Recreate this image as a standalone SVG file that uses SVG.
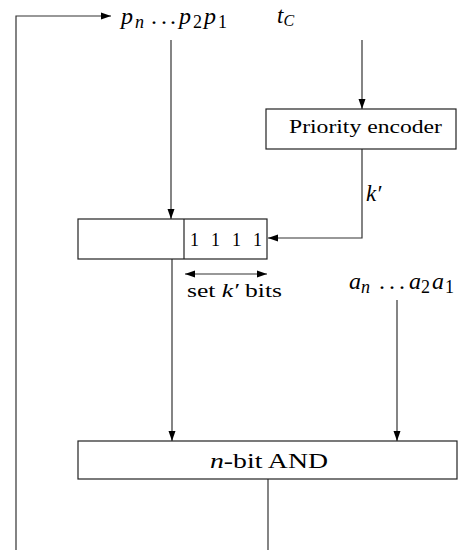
<svg xmlns="http://www.w3.org/2000/svg" width="468" height="550" viewBox="0 0 468 550">
  <style>
    .box { fill: #fff; stroke: #222; stroke-width: 1.2; }
    .wire { fill: none; stroke: #333; stroke-width: 1.2; }
    .it { font-style: italic; }
  </style>
  <defs>
    <marker id="arr" viewBox="0 0 10 10" refX="10" refY="5" markerWidth="10" markerHeight="10" markerUnits="userSpaceOnUse" orient="auto">
      <path d="M0,1.5 L10,5 L0,8.5 Z" fill="#000"/>
    </marker>
    <marker id="arrStart" viewBox="0 0 10 10" refX="0" refY="5" markerWidth="10" markerHeight="10" markerUnits="userSpaceOnUse" orient="auto">
      <path d="M10,1.5 L0,5 L10,8.5 Z" fill="#000"/>
    </marker>
  </defs>

  <g id="connectors">
    <!-- feedback loop from the bottom up to the p input -->
    <path class="wire" d="M16,550 V16 H111" marker-end="url(#arr)"/>
    <!-- p into register -->
    <path class="wire" d="M171,40 V219" marker-end="url(#arr)"/>
    <!-- t_C into priority encoder -->
    <path class="wire" d="M362,40 V109" marker-end="url(#arr)"/>
    <!-- k' from encoder into register -->
    <path class="wire" d="M362,149 V238 H268" marker-end="url(#arr)"/>
    <!-- register to AND -->
    <path class="wire" d="M172,259 V441" marker-end="url(#arr)"/>
    <!-- a into AND -->
    <path class="wire" d="M397,300 V441" marker-end="url(#arr)"/>
    <!-- AND output -->
    <path class="wire" d="M268,479 V550"/>
    <!-- set k' bits span -->
    <path class="wire" d="M185,274 H267" marker-start="url(#arrStart)" marker-end="url(#arr)"/>
  </g>

  <g font-family="'Liberation Serif', 'DejaVu Serif', serif" fill="#000">
    <g id="input-p">
      <text y="24" font-size="24"><tspan class="it" x="121">p</tspan><tspan class="it" font-size="18" x="135" y="28">n</tspan><tspan x="151" y="24">.</tspan><tspan x="161">.</tspan><tspan x="170">.</tspan><tspan class="it" x="179">p</tspan><tspan font-size="18" x="193" y="28">2</tspan><tspan class="it" x="204" y="24">p</tspan><tspan font-size="18" x="218" y="28">1</tspan></text>
    </g>

    <g id="input-t">
      <text x="277" y="23" font-size="23"><tspan class="it">t</tspan><tspan class="it" font-size="16" dy="3">C</tspan></text>
    </g>

    <g id="priority-encoder">
      <rect class="box" x="266" y="109" width="190" height="40"/>
      <text x="289" y="133" font-size="18" textLength="153" lengthAdjust="spacingAndGlyphs">Priority encoder</text>
    </g>

    <g id="label-k">
      <text class="it" x="366" y="201" font-size="23">k′</text>
    </g>

    <g id="register">
      <rect class="box" x="78" y="219" width="189" height="40"/>
      <line class="box" x1="184" y1="219" x2="184" y2="259"/>
      <text x="190" y="246" font-size="18" textLength="72" lengthAdjust="spacing">1 1 1 1</text>
    </g>

    <g id="label-set">
      <text x="187" y="297" font-size="19" textLength="95" lengthAdjust="spacingAndGlyphs"><tspan>set </tspan><tspan class="it">k′</tspan><tspan> bits</tspan></text>
    </g>

    <g id="input-a">
      <text y="289" font-size="24"><tspan class="it" x="349">a</tspan><tspan class="it" font-size="18" x="361" y="293">n</tspan><tspan x="379" y="289">.</tspan><tspan x="389">.</tspan><tspan x="399">.</tspan><tspan class="it" x="409">a</tspan><tspan font-size="18" x="421" y="293">2</tspan><tspan class="it" x="432" y="289">a</tspan><tspan font-size="18" x="445" y="293">1</tspan></text>
    </g>

    <g id="and-gate">
      <rect class="box" x="78" y="441" width="379" height="38"/>
      <text x="210" y="468" font-size="22" textLength="118" lengthAdjust="spacingAndGlyphs"><tspan class="it">n</tspan><tspan>-bit AND</tspan></text>
    </g>
  </g>
</svg>
